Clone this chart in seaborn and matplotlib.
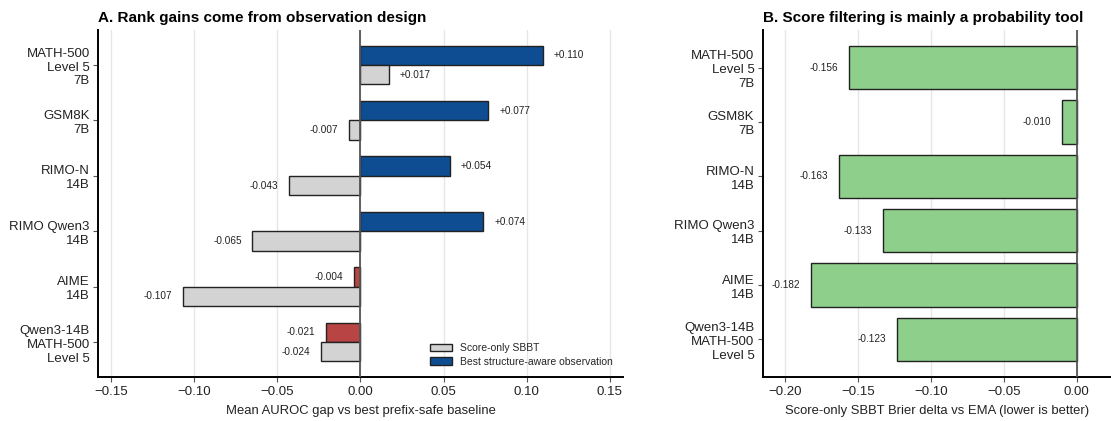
import pandas as pd
import numpy as np
import matplotlib
matplotlib.use("Agg")
import matplotlib.pyplot as plt
from matplotlib.patches import Patch
import seaborn as sns

# data
datasets = ["MATH-500\nLevel 5\n7B", "GSM8K\n7B", "RIMO-N\n14B",
            "RIMO Qwen3\n14B", "AIME\n14B", "Qwen3-14B\nMATH-500\nLevel 5"]
score_only = [0.017, -0.007, -0.043, -0.065, -0.107, -0.024]
structure_aware = [0.110, 0.077, 0.054, 0.074, -0.004, -0.021]
brier_delta = [-0.156, -0.010, -0.163, -0.133, -0.182, -0.123]

series_names = ["Best structure-aware observation", "Score-only SBBT"]

BLUE = "#0f4d92"
GRAY = "#d3d3d3"
RED = "#b94444"
GREEN = "#8ecf8b"
EDGE = "#222222"

sns.set_theme(style="whitegrid")
plt.rcParams["font.family"] = ["Liberation Sans", "DejaVu Sans"]
plt.rcParams["axes.unicode_minus"] = True

fig = plt.figure(figsize=(11.11, 4.21), dpi=100)
ax1 = fig.add_axes([0.0882, 0.1045, 0.4725, 0.824])
ax2 = fig.add_axes([0.6865, 0.1045, 0.3135, 0.824])

# ---- panel A ----
df_a = pd.DataFrame({
    "dataset": datasets * 2,
    "series": [series_names[0]] * 6 + [series_names[1]] * 6,
    "value": structure_aware + score_only,
})
sns.barplot(data=df_a, y="dataset", x="value", hue="series",
            order=datasets, hue_order=series_names, palette=[BLUE, GRAY],
            orient="h", width=0.7, edgecolor=EDGE, linewidth=1.0,
            saturation=1, legend=False, ax=ax1, zorder=3)

for bar, v in zip(ax1.containers[0], structure_aware):
    if v < 0:
        bar.set_facecolor(RED)

for cont, vals in zip(ax1.containers, [structure_aware, score_only]):
    for bar, v in zip(cont, vals):
        y = bar.get_y() + bar.get_height() / 2
        if v >= 0:
            ax1.text(v + 0.0065, y, f"+{v:.3f}", ha="left", va="center",
                     fontsize=7.2, color="#222222")
        else:
            ax1.text(v - 0.0065, y, f"-{abs(v):.3f}", ha="right", va="center",
                     fontsize=7.2, color="#222222")

ax1.axvline(0, color="#555555", lw=1.3, zorder=4)
ax1.set_xlim(-0.158, 0.158)
ax1.set_ylim(5.63, -0.63)
ax1.set_xticks([-0.15, -0.10, -0.05, 0.0, 0.05, 0.10, 0.15])
ax1.set_xlabel("Mean AUROC gap vs best prefix-safe baseline", fontsize=9.4,
               labelpad=5)
ax1.set_ylabel("")
ax1.set_title("A. Rank gains come from observation design", loc="left",
              fontsize=11, fontweight="bold", pad=6, color="black")
handles = [Patch(facecolor=GRAY, edgecolor=EDGE, label="Score-only SBBT"),
           Patch(facecolor=BLUE, edgecolor=EDGE, label="Best structure-aware observation")]
ax1.legend(handles=handles, loc="lower right", frameon=False, fontsize=7.5,
           handlelength=2.2, handleheight=0.7, labelspacing=0.3,
           handletextpad=0.7, borderaxespad=0.6)

# ---- panel B ----
df_b = pd.DataFrame({"dataset": datasets, "value": brier_delta})
sns.barplot(data=df_b, y="dataset", x="value", order=datasets, color=GREEN,
            orient="h", width=0.8, edgecolor=EDGE, linewidth=1.0,
            saturation=1, ax=ax2, zorder=3)
for bar, v in zip(ax2.containers[0], brier_delta):
    y = bar.get_y() + bar.get_height() / 2
    ax2.text(v - 0.0075, y, f"-{abs(v):.3f}", ha="right", va="center",
             fontsize=7.2, color="#222222")

ax2.axvline(0, color="#555555", lw=1.3, zorder=4)
ax2.set_xlim(-0.2153, 0.0235)
ax2.set_ylim(5.69, -0.69)
ax2.set_xticks([-0.20, -0.15, -0.10, -0.05, 0.0])
ax2.set_xlabel("Score-only SBBT Brier delta vs EMA (lower is better)", fontsize=9.4,
               labelpad=5)
ax2.set_ylabel("")
ax2.set_title("B. Score filtering is mainly a probability tool", loc="left",
              fontsize=11, fontweight="bold", pad=6, color="black")

for ax in (ax1, ax2):
    ax.grid(axis="x", color="#e6e6e6", lw=1.0, zorder=0)
    ax.grid(axis="y", visible=False)
    ax.set_axisbelow(True)
    for side in ("top", "right"):
        ax.spines[side].set_visible(False)
    for side in ("left", "bottom"):
        ax.spines[side].set_color("black")
        ax.spines[side].set_linewidth(1.4)
    ax.tick_params(axis="x", labelsize=9.5, length=3.5, width=0.8, bottom=True,
                   pad=3, color="#555555", labelcolor="#222222")
    ax.tick_params(axis="y", labelsize=9.5, length=3.5, width=0.8, left=True,
                   pad=2.5, color="#555555", labelcolor="#222222")
    for lab in ax.get_yticklabels():
        lab.set_linespacing(1.22)
    ax.xaxis.label.set_color("#222222")

fig.savefig("out.png", dpi=100)
